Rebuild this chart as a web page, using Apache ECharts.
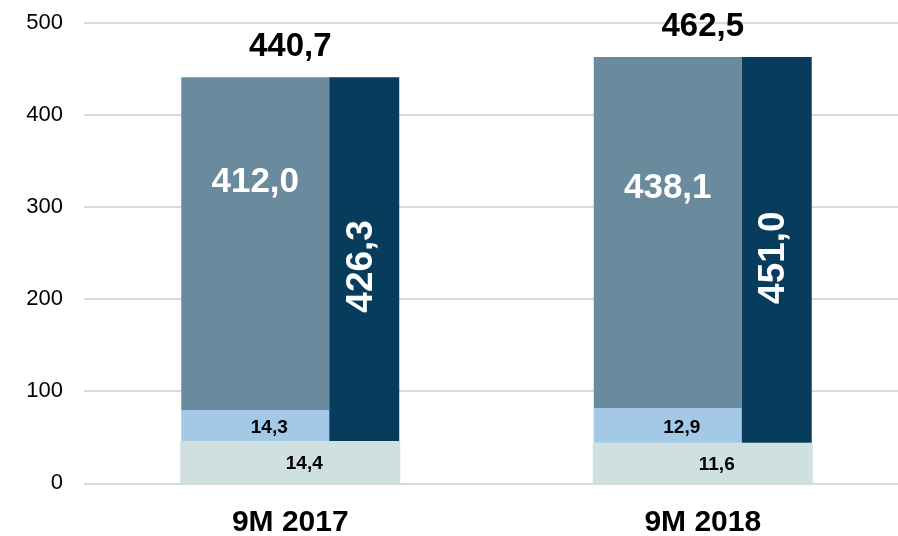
<!DOCTYPE html>
<html>
<head>
<meta charset="utf-8">
<script src="https://cdn.jsdelivr.net/npm/echarts@6/dist/echarts.min.js"></script>
<style>
  html, body { margin: 0; padding: 0; background: #ffffff; }
  #chart { width: 898px; height: 536px; }
</style>
</head>
<body>
<div id="chart"></div>
<script>
// ---- data (the parts are drawn not-to-scale in the original) ----
const categories = ['9M 2017', '9M 2018'];
const yTicks = [0, 100, 200, 300, 400, 500];
const baseHeights  = [45.9, 44.0];    // light grey bottom block (drawn height)
const midHeights   = [33.6, 37.7];    // light blue block (drawn height)
const upperHeights = [361.2, 380.8];  // grey-blue block (drawn height)
const navyHeights  = [394.8, 418.5];  // dark navy block (drawn height, sits on the bottom block)
const totals       = [440.7, 462.5];  // bar totals
const baseLabels   = ['14,4', '11,6'];
const midLabels    = ['14,3', '12,9'];
const upperLabels  = ['412,0', '438,1'];
const navyLabels   = ['426,3', '451,0'];
const totalLabels  = ['440,7', '462,5'];

// ---- styling ----
const FONT = "'Liberation Sans', Arial, Helvetica, sans-serif";
const upperLabelDistance = [88, 114];
const C = { base: '#d0dfe0', mid: '#a3c9e7', upper: '#6a8b9d', navy: '#073c5d', grid: '#d9d9d9' };

const chart = echarts.init(document.getElementById('chart'), null, { renderer: 'canvas' });

const option = {
  animation: false,
  backgroundColor: '#ffffff',
  grid: { left: 84, top: 22.5, bottom: 52.7, width: 825, containLabel: false, outerBoundsMode: 'none' },
  xAxis: [
    {
      type: 'category', data: categories, gridIndex: 0,
      axisLine: { show: false }, axisTick: { show: false },
      axisLabel: { fontFamily: FONT, fontSize: 30, fontWeight: 'bold', color: '#000', margin: 24 }
    },
    { type: 'category', data: categories, gridIndex: 0, show: false }
  ],
  yAxis: {
    type: 'value', min: yTicks[0], max: yTicks[yTicks.length - 1], interval: yTicks[1] - yTicks[0],
    axisLine: { show: false }, axisTick: { show: false },
    splitLine: { lineStyle: { color: C.grid, width: 2 } },
    axisLabel: { fontFamily: FONT, fontSize: 22, color: '#000', margin: 21 }
  },
  series: [
    // full-width bottom block + invisible rest carrying the total label
    {
      type: 'bar', xAxisIndex: 0, stack: 'full', barWidth: 220,
      data: baseHeights,
      itemStyle: { color: C.base },
      label: {
        show: true, position: 'inside', offset: [14, 2],
        formatter: p => baseLabels[p.dataIndex],
        fontFamily: FONT, fontSize: 19, fontWeight: 'bold', color: '#000'
      }
    },
    {
      type: 'bar', xAxisIndex: 0, stack: 'full', barWidth: 220,
      data: totals.map((t, i) => t - baseHeights[i]),
      itemStyle: { color: 'rgba(0,0,0,0)' },
      label: {
        show: true, position: 'top', distance: 14,
        formatter: p => totalLabels[p.dataIndex],
        fontFamily: FONT, fontSize: 33, fontWeight: 'bold', color: '#000'
      },
      z: 1
    },
    // left stack
    {
      type: 'bar', xAxisIndex: 1, stack: 'L', barWidth: 148, barGap: '0%',
      data: baseHeights, itemStyle: { color: 'rgba(0,0,0,0)' }, silent: true
    },
    {
      type: 'bar', xAxisIndex: 1, stack: 'L', barWidth: 148, barGap: '0%',
      data: midHeights, itemStyle: { color: C.mid },
      label: {
        show: true, position: 'inside', offset: [14, 2],
        formatter: p => midLabels[p.dataIndex],
        fontFamily: FONT, fontSize: 19, fontWeight: 'bold', color: '#000'
      }
    },
    {
      type: 'bar', xAxisIndex: 1, stack: 'L', barWidth: 148, barGap: '0%',
      data: upperHeights.map((v, i) => ({
        value: v,
        label: { distance: upperLabelDistance[i] }
      })),
      itemStyle: { color: C.upper },
      label: {
        show: true, position: 'insideTop',
        formatter: p => upperLabels[p.dataIndex],
        fontFamily: FONT, fontSize: 35, fontWeight: 'bold', color: '#fff'
      }
    },
    // right stack
    {
      type: 'bar', xAxisIndex: 1, stack: 'R', barWidth: 70, barGap: '0%',
      data: baseHeights, itemStyle: { color: 'rgba(0,0,0,0)' }, silent: true
    },
    {
      type: 'bar', xAxisIndex: 1, stack: 'R', barWidth: 70, barGap: '0%',
      data: navyHeights,
      itemStyle: { color: C.navy },
      label: {
        show: true, position: ['46%', '52%'], align: 'center', verticalAlign: 'middle', rotate: 90,
        formatter: p => navyLabels[p.dataIndex],
        fontFamily: FONT, fontSize: 37, fontWeight: 'bold', color: '#fff'
      }
    }
  ]
};

chart.setOption(option);
</script>
</body>
</html>
